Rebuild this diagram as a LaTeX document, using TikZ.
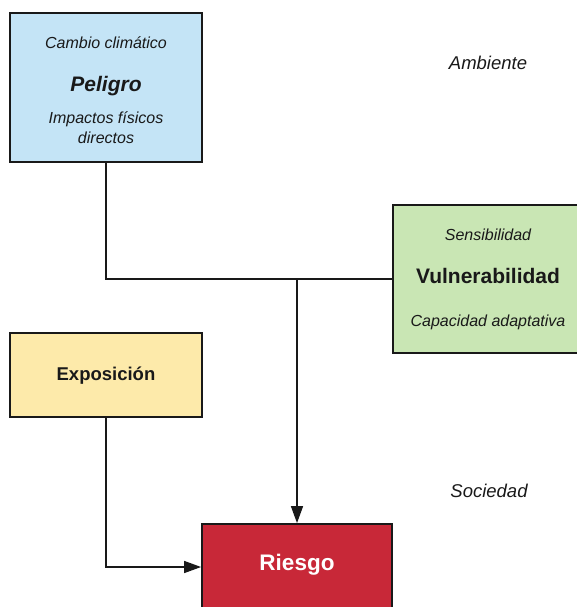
\documentclass[tikz,border=0pt]{standalone}
\usepackage{fontspec}
\setmainfont{Liberation Sans}
\usetikzlibrary{arrows.meta}

\definecolor{hazblue}{RGB}{196,228,246}
\definecolor{vulgreen}{RGB}{201,230,180}
\definecolor{expyellow}{RGB}{253,234,170}
\definecolor{riskred}{RGB}{200,40,56}
\definecolor{ink}{RGB}{25,25,25}

\tikzset{
  box/.style={draw=ink, line width=1.8pt, inner sep=0pt},
  txt/.style={inner sep=0pt, text height=.72em, text depth=0pt, text=ink},
  link/.style={draw=ink, line width=1.4pt},
  arr/.style={link, -{Triangle[length=17pt,width=12pt]}},
}

\begin{document}
\begin{tikzpicture}[x=1pt,y=-1pt]
  \useasboundingbox (0,0) rectangle (577,607);
  \clip (0,0) rectangle (577,607);

  % boxes
  \node[box, fill=hazblue, minimum width=192pt, minimum height=149pt] (pel) at (106,87.5) {};
  \node[box, fill=vulgreen, minimum width=192pt, minimum height=148pt] (vul) at (489,279) {};
  \node[box, fill=expyellow, minimum width=192pt, minimum height=84pt] (exp) at (106,375) {};
  \node[box, fill=riskred, minimum width=190pt, minimum height=86pt] (ries) at (297,567) {};

  % texts of the hazard box
  \node[txt, font=\fontsize{16}{18}\selectfont\itshape] (pel1) at (106,45) {Cambio climático};
  \node[txt, font=\fontsize{21}{24}\selectfont\bfseries\itshape] (pel2) at (106,88) {Peligro};
  \node[txt, font=\fontsize{16}{18}\selectfont\itshape] (pel3) at (106,120) {Impactos físicos};
  \node[txt, font=\fontsize{16}{18}\selectfont\itshape] (pel4) at (106,140) {directos};

  % texts of the vulnerability box
  \node[txt, font=\fontsize{16}{18}\selectfont\itshape] (vul1) at (488,237) {Sensibilidad};
  \node[txt, font=\fontsize{21}{24}\selectfont\bfseries] (vul2) at (488,280) {Vulnerabilidad};
  \node[txt, font=\fontsize{16}{18}\selectfont\itshape] (vul3) at (488,323) {Capacidad adaptativa};

  \node[txt, font=\fontsize{18.5}{22}\selectfont\bfseries] (exp1) at (106,377) {Exposición};
  \node[txt, text=white, font=\fontsize{22.5}{26}\selectfont\bfseries] (ries1) at (297,567) {Riesgo};

  % side labels
  \node[txt, font=\fontsize{18.5}{22}\selectfont\itshape] (amb) at (488,66) {Ambiente};
  \node[txt, font=\fontsize{18.5}{22}\selectfont\itshape] (soc) at (489,494) {Sociedad};

  % connectors
  \coordinate (join) at (ries.north |- vul.west);
  \draw[link] (pel.south) |- (vul.west);
  \draw[arr] (join) -- (ries.north);
  \draw[arr] (exp.south) |- (ries.west);
\end{tikzpicture}
\end{document}
